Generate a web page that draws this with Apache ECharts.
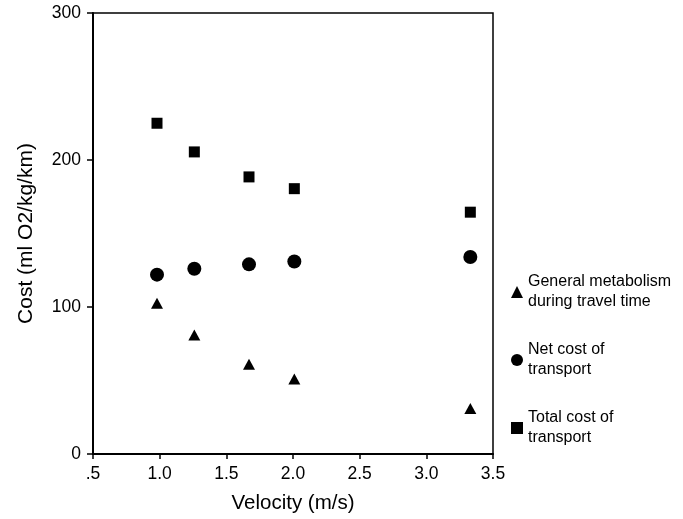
<!DOCTYPE html>
<html>
<head>
<meta charset="utf-8">
<script src="https://cdn.jsdelivr.net/npm/echarts@6/dist/echarts.min.js"></script>
<style>html,body{margin:0;padding:0;background:#fff;overflow:hidden}#c{width:683px;height:519px}</style>
</head>
<body>
<div id="c"></div>
<script>
const velocity = [0.98, 1.26, 1.67, 2.01, 3.33];
const generalMetabolism = [102.6, 81, 61, 51, 31];
const netCost = [122, 126, 129, 131, 134];
const totalCost = [225, 205.5, 188.5, 180.5, 164.5];
const seriesNames = ['General metabolism\nduring travel time', 'Net cost of\ntransport', 'Total cost of\ntransport'];
const xTicks = [0.5, 1.0, 1.5, 2.0, 2.5, 3.0, 3.5];
const yTicks = [0, 100, 200, 300];

const pairs = v => velocity.map((x, i) => [x, v[i]]);
const font = 'Liberation Sans, Arial, sans-serif';

const chart = echarts.init(document.getElementById('c'), null, {renderer: 'canvas', width: 683, height: 519});
chart.setOption({
  animation: false,
  backgroundColor: '#fff',
  grid: {left: 93, right: 190, top: 13, bottom: 62, show: true, borderColor: '#000', borderWidth: 1.5, backgroundColor: 'transparent'},
  xAxis: {
    type: 'value', min: xTicks[0], max: xTicks[xTicks.length - 1], interval: 0.5,
    name: 'Velocity (m/s)', nameLocation: 'middle', nameGap: 39,
    nameTextStyle: {fontFamily: font, fontSize: 20.5, color: '#000'},
    axisLine: {show: true, lineStyle: {color: '#000', width: 2}},
    axisTick: {show: true, inside: false, length: 5, lineStyle: {color: '#000', width: 1.5}},
    axisLabel: {fontFamily: font, fontSize: 17.5, color: '#000', margin: 11,
      formatter: v => v === 0.5 ? '.5' : v.toFixed(1)},
    splitLine: {show: false}
  },
  yAxis: {
    type: 'value', min: yTicks[0], max: yTicks[yTicks.length - 1], interval: 100,
    name: 'Cost (ml O2/kg/km)', nameLocation: 'middle', nameGap: 56,
    nameTextStyle: {fontFamily: font, fontSize: 21, color: '#000'},
    axisLine: {show: true, lineStyle: {color: '#000', width: 2}},
    axisTick: {show: true, inside: false, length: 6, lineStyle: {color: '#000', width: 1.5}},
    axisLabel: {fontFamily: font, fontSize: 17.5, color: '#000', margin: 12},
    splitLine: {show: false}
  },
  legend: {
    orient: 'vertical', left: 506, top: 267, itemGap: 28, itemWidth: 12, itemHeight: 12,
    data: [
      {name: seriesNames[0], icon: 'triangle'},
      {name: seriesNames[1], icon: 'circle'},
      {name: seriesNames[2], icon: 'rect'}
    ],
    textStyle: {fontFamily: font, fontSize: 16, color: '#000', lineHeight: 20},
    itemStyle: {color: '#000'}
  },
  series: [
    {name: seriesNames[0], type: 'scatter', symbol: 'triangle', symbolSize: [12, 11], data: pairs(generalMetabolism), itemStyle: {color: '#000', opacity: 1}},
    {name: seriesNames[1], type: 'scatter', symbol: 'circle', symbolSize: 14, data: pairs(netCost), itemStyle: {color: '#000', opacity: 1}},
    {name: seriesNames[2], type: 'scatter', symbol: 'rect', symbolSize: 11, data: pairs(totalCost), itemStyle: {color: '#000', opacity: 1}}
  ]
});
</script>
</body>
</html>
